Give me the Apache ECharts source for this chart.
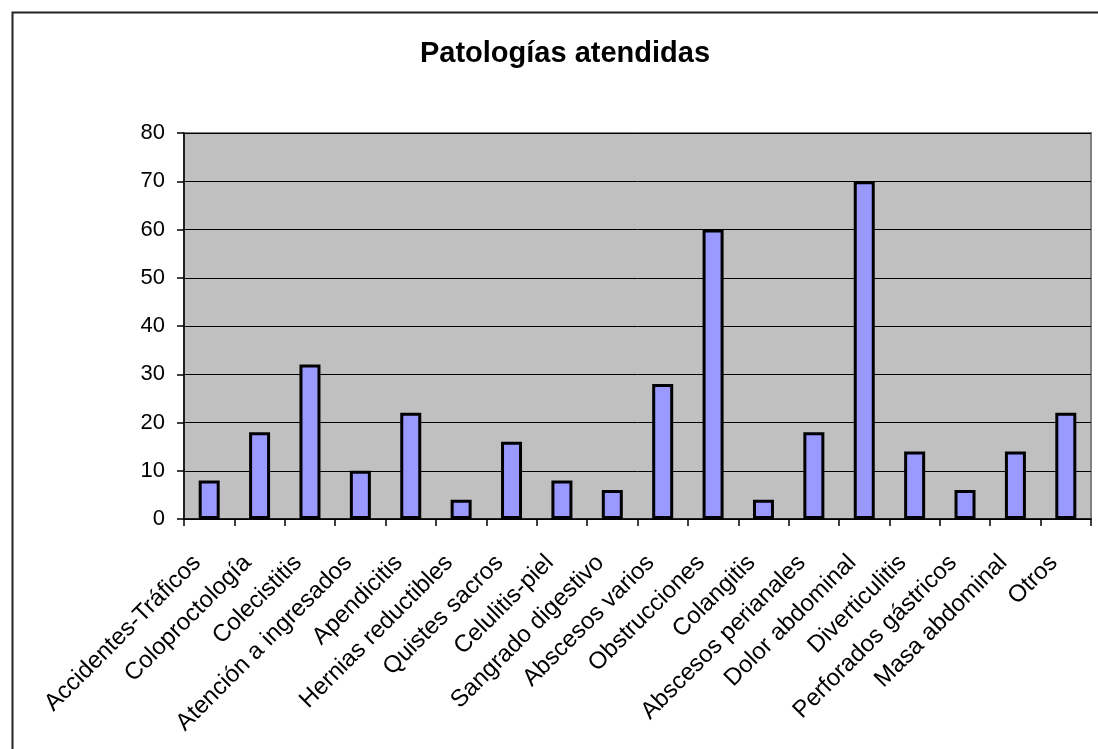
<!DOCTYPE html>
<html>
<head>
<meta charset="utf-8">
<script src="https://cdn.jsdelivr.net/npm/echarts@6/dist/echarts.min.js"></script>
<style>
html,body{margin:0;padding:0;background:#fff;}
#chart{width:1098px;height:749px;}
</style>
</head>
<body>
<div id="chart"></div>
<script>
const categories = ["Accidentes-Tráficos","Coloproctología","Colecistitis","Atención a ingresados","Apendicitis","Hernias reductibles","Quistes sacros","Celulitis-piel","Sangrado digestivo","Abscesos varios","Obstrucciones","Colangitis","Abscesos perianales","Dolor abdominal","Diverticulitis","Perforados gástricos","Masa abdominal","Otros"];
const values = [8,18,32,10,22,4,16,8,6,28,60,4,18,70,14,6,14,22];
const titleText = "Patologías atendidas";

const FONT = 'Liberation Sans, Arial, sans-serif';
const chart = echarts.init(document.getElementById('chart'), null, {renderer:'canvas'});
chart.setOption({
  animation:false,
  backgroundColor:'#ffffff',
  textStyle:{fontFamily:FONT},
  title:{
    text:titleText, left:560, textAlign:'center', top:34,
    textStyle:{fontSize:29, fontWeight:'bold', color:'#000', fontFamily:FONT}
  },
  graphic:[{
    type:'rect', left:10, top:10, z:-1, silent:true,
    shape:{x:0,y:0,width:1200,height:1000},
    style:{fill:'none', stroke:'#222', lineWidth:2}
  }],
  grid:{left:184, top:133, right:7, bottom:230, show:true, backgroundColor:'#C0C0C0', borderColor:'#808080', borderWidth:2},
  xAxis:{
    type:'category', data:categories,
    axisLine:{lineStyle:{color:'#000', width:1.5}},
    axisTick:{show:true, length:7, lineStyle:{color:'#000', width:1.5}},
    axisLabel:{rotate:45, fontSize:24, color:'#000', margin:28, interval:0, padding:[0,17,0,0], fontFamily:FONT}
  },
  yAxis:{
    type:'value', min:0, max:80, interval:10,
    axisLine:{show:true, lineStyle:{color:'#000', width:1.5}},
    axisTick:{show:true, length:7, lineStyle:{color:'#000', width:1.5}},
    axisLabel:{fontSize:22, color:'#000', margin:19, fontFamily:FONT},
    splitLine:{show:true, lineStyle:{color:'#000', width:1}}
  },
  series:[{
    type:'bar', data:values, barWidth:21,
    itemStyle:{color:'#9999FF', borderColor:'#000', borderWidth:3}
  }]
});
</script>
</body>
</html>
